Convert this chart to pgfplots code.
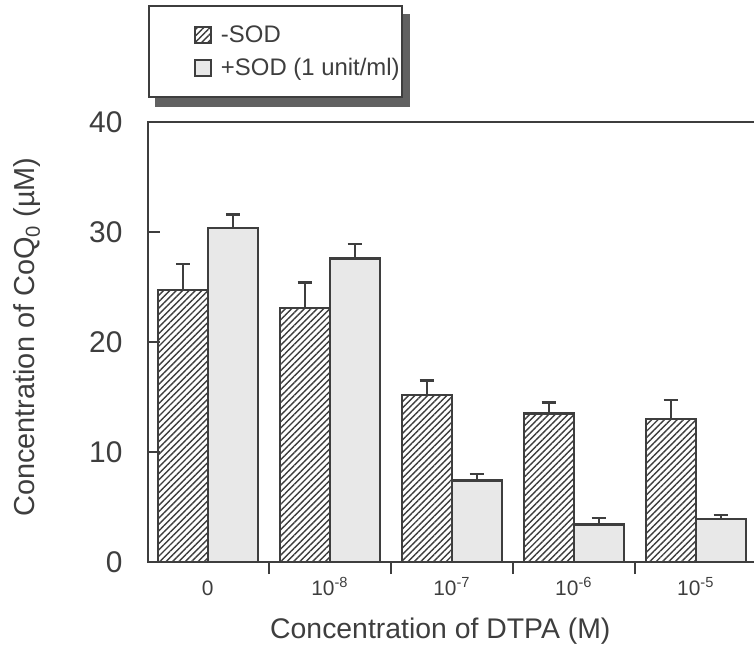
\documentclass[border=0pt]{standalone}
\usepackage{fontspec}
\setmainfont{Liberation Sans}
\usepackage{pgfplots}
\pgfplotsset{compat=1.18}
\usetikzlibrary{patterns.meta,backgrounds}
\definecolor{ink}{HTML}{3E3E3E}
\definecolor{dotgray}{HTML}{E8E8E8}

\pgfplotsset{boxlegend/.style={legend image code/.code={\path[draw=none,fill=none] (0bp,0bp) -- (70bp,0bp); \draw[##1, line width=1.8bp] (46bp,-8bp) rectangle (62bp,8bp);}}}

\pgfplotstableread{
x y e
0 24.7 2.4
1 23.1 2.3
2 15.2 1.3
3 13.5 1.0
4 13.0 1.7
}\minusSOD
\pgfplotstableread{
x y e
0 30.4 1.2
1 27.6 1.3
2 7.4 0.6
3 3.4 0.6
4 3.9 0.4
}\plusSOD

\begin{document}
\begin{tikzpicture}
\path[use as bounding box] (0,0) rectangle (754bp,645bp);
\clip (0,0) rectangle (754bp,645bp);
\begin{axis}[
  at={(148bp,83bp)}, anchor=south west,
  scale only axis, width=622bp, height=440bp,
  xmin=-0.49, xmax=4.61, ymin=0, ymax=40,
  axis line style={draw=ink, line width=2.2bp},
  /pgf/number format/assume math mode=true,
  ytick={0,10,20,30,40},
  ytick pos=left, xtick pos=bottom,
  tick align=inside,
  major tick length=12bp,
  tick style={draw=ink, line width=2.2bp},
  yticklabel style={font=\fontsize{30}{30}\selectfont, text=ink, xshift=-22bp},
  xtick={0.5,1.5,2.5,3.5},
  xticklabels={,,,},
  extra x ticks={0,1,2,3,4},
  extra x tick labels={0,10\textsuperscript{-8},10\textsuperscript{-7},10\textsuperscript{-6},10\textsuperscript{-5}},
  extra x tick style={major tick length=0pt, xticklabel style={font=\fontsize{21}{21}\selectfont, text=ink, anchor=base, yshift=-33bp}},
  xlabel={Concentration of DTPA (M)},
  ylabel={Concentration of CoQ\textsubscript{0} (µM)},
  x label style={font=\fontsize{28.5}{28.5}\selectfont, text=ink, at={(axis description cs:0.47,0)}, anchor=base, yshift=-76bp},
  y label style={font=\fontsize{29}{29}\selectfont, text=ink, at={(axis description cs:-0.195,0.511)}, anchor=center},
  ybar, bar width=0.41,
  legend style={name=leg, at={(0,1.266)}, anchor=north west, draw=ink, line width=2bp, fill=white,
     font=\fontsize{24}{24}\selectfont, text=ink, inner xsep=0bp, inner ysep=16bp, row sep=6.5bp,
     nodes={inner ysep=4bp}},
  legend cell align=left,
]
\addplot[draw=ink, line width=2.2bp,
  pattern={Lines[angle=45,distance=4.5bp,line width=1.4bp]}, pattern color=ink,
  bar shift=-0.205, boxlegend,
  error bars/.cd, y dir=plus, y explicit, error mark=|,
  error bar style={draw=ink, line width=2.2bp, solid},
  error mark options={draw=ink, line width=2.2bp, mark size=7bp},
] table[x=x, y=y, y error=e] {\minusSOD};
\addlegendentry{-SOD}
\addplot[draw=ink, line width=2.2bp, fill=dotgray,
  bar shift=0.205, boxlegend,
  error bars/.cd, y dir=plus, y explicit, error mark=|,
  error bar style={draw=ink, line width=2.2bp, solid},
  error mark options={draw=ink, line width=2.2bp, mark size=7bp},
] table[x=x, y=y, y error=e] {\plusSOD};
\addlegendentry{+SOD (1 unit/ml)}
\end{axis}
\begin{scope}[on background layer]
\fill[black!62] ([xshift=7bp,yshift=-9bp]leg.south west) rectangle ([xshift=7bp,yshift=-9bp]leg.north east);
\end{scope}
\end{tikzpicture}
\end{document}
